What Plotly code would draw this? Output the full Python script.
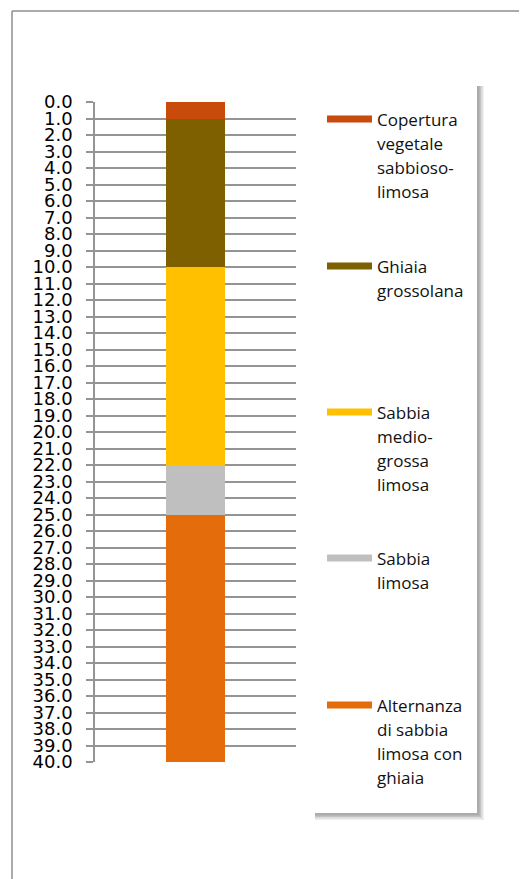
import plotly.graph_objects as go

# ---- data ----
layer_names = [
    "Copertura<br>vegetale<br>sabbioso-<br>limosa",
    "Ghiaia<br>grossolana",
    "Sabbia<br>medio-<br>grossa<br>limosa",
    "Sabbia<br>limosa",
    "Alternanza<br>di sabbia<br>limosa con<br>ghiaia",
]
layer_thickness = [1.0, 9.0, 12.0, 3.0, 15.0]   # metres, from top
layer_colors = ["#C84B0C", "#7F6000", "#FFC000", "#BFBFBF", "#E46C0A"]
depth_ticks = list(range(0, 41))
column = [""]

OFF = 8  # default page body margin
W, H = 527 - OFF, 879 - OFF
L, R, T, B = 95 - OFF, 231, 102 - OFF, 117
PW, PH = W - L - R, H - T - B


def px(x):
    return (x - OFF - L) / PW


def py(y):
    return (H - B - (y - OFF)) / PH


fig = go.Figure()
for name, th, col in zip(layer_names, layer_thickness, layer_colors):
    fig.add_trace(go.Bar(x=column, y=[th], name=name.replace("<br>", " "),
                         marker_color=col, marker_line_width=0, width=0.29,
                         showlegend=False))

shapes = []
annotations = []
# outer chart frame (left and top edges)
shapes.append(dict(type="line", xref="paper", yref="paper",
                   x0=px(12), x1=px(12), y0=py(11), y1=py(879),
                   line=dict(color="#8f8f8f", width=1.5), layer="below"))
shapes.append(dict(type="line", xref="paper", yref="paper",
                   x0=px(12), x1=px(527), y0=py(11), y1=py(11),
                   line=dict(color="#8f8f8f", width=1.5), layer="below"))
# legend shadow (soft)
for i, op in enumerate([0.10, 0.14, 0.18, 0.22]):
    d = 7 - i * 1.5
    shapes.append(dict(type="rect", xref="paper", yref="paper",
                       x0=px(315), x1=px(477 + d), y0=py(86), y1=py(813 + d),
                       line=dict(width=0), fillcolor=f"rgba(90,90,90,{op})"))
# legend box
shapes.append(dict(type="rect", xref="paper", yref="paper",
                   x0=px(311), x1=px(477), y0=py(82), y1=py(813),
                   line=dict(width=0), fillcolor="white"))

item_y = [119, 266, 412, 558, 705]
line_gap = 24.3
for name, col, yc in zip(layer_names, layer_colors, item_y):
    shapes.append(dict(type="line", xref="paper", yref="paper",
                       x0=px(327), x1=px(372), y0=py(yc), y1=py(yc),
                       line=dict(color=col, width=7)))
    for k, part in enumerate(name.split("<br>")):
        annotations.append(dict(xref="paper", yref="paper", x=px(375),
                                y=py(yc + k * line_gap),
                                xanchor="left", yanchor="middle", align="left",
                                text=part, showarrow=False,
                                font=dict(family="Open Sans", size=17, color="#111111")))

fig.update_layout(
    width=W, height=H,
    margin=dict(l=L, r=R, t=T, b=B),
    paper_bgcolor="white", plot_bgcolor="white",
    barmode="stack", bargap=0,
    showlegend=False,
    shapes=shapes, annotations=annotations,
    xaxis=dict(showticklabels=False, showgrid=False, zeroline=False,
               showline=False, range=[-0.5, 0.5], fixedrange=True),
    yaxis=dict(range=[40, 0], tickmode="array", tickvals=depth_ticks,
               ticktext=[f"{v:.1f}" for v in depth_ticks],
               showgrid=True, gridcolor="#949494", gridwidth=1.6,
               showline=True, linecolor="#949494", linewidth=1.6,
               ticks="outside", ticklen=7, tickcolor="#949494", tickwidth=1.6,
               zeroline=False, ticklabelstandoff=10,
               tickfont=dict(family="DejaVu Sans", size=18, color="#000000")),
)

fig.write_html("out.html")
